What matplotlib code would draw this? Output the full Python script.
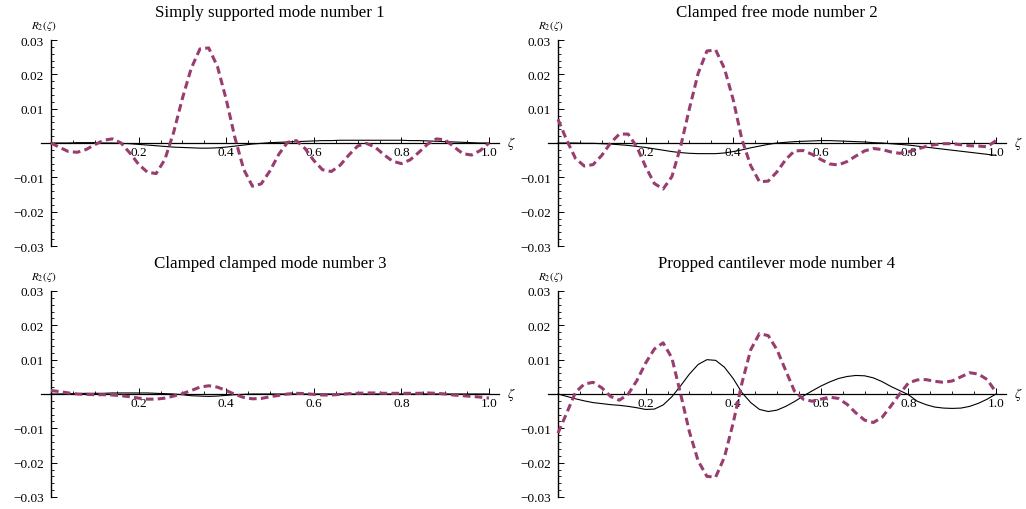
import numpy as np
import matplotlib
matplotlib.use("Agg")
import matplotlib.pyplot as plt

plt.rcParams['font.family'] = ['Liberation Serif', 'DejaVu Serif']
plt.rcParams['mathtext.fontset'] = 'stix'

# sample points along the beam
zeta = np.round(np.arange(0, 1.0001, 0.02), 2)

titles = ["Simply supported mode number 1", "Clamped free mode number 2",
          "Clamped clamped mode number 3", "Propped cantilever mode number 4"]

# simply supported, mode 1
ss_dash = [0.0, -0.0013, -0.0025, -0.0027, -0.0019, -0.0005, 0.0008, 0.0012, 0.0000, -0.0029,
           -0.0062, -0.0085, -0.0089, -0.0048, 0.0031, 0.0130, 0.0217, 0.0274, 0.0277, 0.0223,
           0.0127, 0.0015, -0.0077, -0.0126, -0.0119, -0.0081, -0.0033, 0.0002, 0.0007, -0.0016,
           -0.0051, -0.0078, -0.0083, -0.0065, -0.0035, -0.0009, -0.0001, -0.0012, -0.0034, -0.0053,
           -0.0060, -0.0049, -0.0027, -0.0003, 0.0012, 0.0009, -0.0011, -0.0031, -0.0035, -0.0022,
           0.0]
ss_solid = [0.0, 0.0, 0.0, 0.0001, 0.0001, 0.0001, 0.0, 0.0, -0.0001, -0.0002,
            -0.0004, -0.0006, -0.0008, -0.0010, -0.0012, -0.0013, -0.0014, -0.0015, -0.0015, -0.0014,
            -0.0012, -0.0009, -0.0006, -0.0003, -0.0001, 0.0001, 0.0002, 0.0003, 0.0004, 0.0005,
            0.0006, 0.0007, 0.0007, 0.0008, 0.0008, 0.0008, 0.0008, 0.0008, 0.0008, 0.0008,
            0.0008, 0.0007, 0.0007, 0.0006, 0.0005, 0.0004, 0.0003, 0.0002, 0.0001, 0.0,
            0.0]

# clamped free, mode 2
cf_dash = [0.0069, 0.0008, -0.0045, -0.0067, -0.0063, -0.0036, 0.0000, 0.0026, 0.0026, -0.0011,
           -0.0069, -0.0118, -0.0134, -0.0098, -0.0010, 0.0100, 0.0203, 0.0268, 0.0271, 0.0217,
           0.0126, 0.0010, -0.0066, -0.0113, -0.0111, -0.0084, -0.0048, -0.0023, -0.0022, -0.0033,
           -0.0048, -0.0061, -0.0064, -0.0054, -0.0038, -0.0023, -0.0016, -0.0019, -0.0026, -0.0030,
           -0.0026, -0.0018, -0.0010, -0.0005, -0.0002, -0.0002, -0.0005, -0.0008, -0.0009, -0.0011,
           0.0007]
cf_solid = [0.0, 0.0, 0.0, -0.0001, -0.0001, -0.0002, -0.0003, -0.0005, -0.0007, -0.0010,
            -0.0013, -0.0017, -0.0021, -0.0025, -0.0028, -0.0030, -0.0031, -0.0031, -0.0031, -0.0029,
            -0.0025, -0.0020, -0.0014, -0.0009, -0.0004, 0.0, 0.0002, 0.0004, 0.0005, 0.0006,
            0.0007, 0.0007, 0.0006, 0.0005, 0.0004, 0.0003, 0.0001, 0.0, -0.0002, -0.0004,
            -0.0006, -0.0009, -0.0012, -0.0015, -0.0018, -0.0021, -0.0024, -0.0027, -0.0030, -0.0033,
            -0.0036]

# clamped clamped, mode 3
cc_dash = [0.0010, 0.0007, 0.0003, 0.0, -0.0001, -0.0002, -0.0002, -0.0003, -0.0005, -0.0008,
           -0.0012, -0.0015, -0.0015, -0.0012, -0.0006, 0.0001, 0.0010, 0.0020, 0.0024, 0.0020,
           0.0010, -0.0001, -0.0010, -0.0014, -0.0013, -0.0008, -0.0004, 0.0, 0.0002, 0.0001,
           -0.0001, -0.0003, -0.0003, -0.0001, 0.0001, 0.0002, 0.0003, 0.0003, 0.0002, 0.0002,
           0.0002, 0.0002, 0.0002, 0.0003, 0.0002, 0.0, -0.0003, -0.0005, -0.0007, -0.0009,
           -0.0012]
cc_solid = [0.0, 0.0, 0.0001, 0.0001, 0.0002, 0.0002, 0.0002, 0.0003, 0.0003, 0.0003,
            0.0003, 0.0003, 0.0002, 0.0001, 0.0, -0.0002, -0.0005, -0.0006, -0.0007, -0.0006,
            -0.0004, -0.0002, -0.0001, 0.0, 0.0, 0.0, 0.0, 0.0, 0.0, 0.0,
            0.0, 0.0, 0.0, 0.0, 0.0, 0.0, 0.0, 0.0, 0.0, 0.0,
            0.0, 0.0, 0.0, 0.0, 0.0, 0.0, 0.0, 0.0, 0.0, 0.0,
            0.0]

# propped cantilever, mode 4
pc_dash = [-0.0114, -0.0055, 0.0005, 0.0029, 0.0034, 0.0018, -0.0007, -0.0018, -0.0001, 0.0039,
           0.0090, 0.0131, 0.0149, 0.0105, 0.0000, -0.0110, -0.0195, -0.0240, -0.0242, -0.0184,
           -0.0084, 0.0032, 0.0129, 0.0176, 0.0170, 0.0129, 0.0068, 0.0008, -0.0015, -0.0021,
           -0.0015, -0.0009, -0.0013, -0.0030, -0.0055, -0.0076, -0.0083, -0.0068, -0.0035, 0.0000,
           0.0032, 0.0041, 0.0042, 0.0037, 0.0034, 0.0038, 0.0050, 0.0062, 0.0058, 0.0042,
           0.0005]
pc_solid = [0.0, -0.0007, -0.0014, -0.0020, -0.0025, -0.0028, -0.0031, -0.0033, -0.0036, -0.0040,
            -0.0045, -0.0044, -0.0032, -0.0008, 0.0024, 0.0058, 0.0086, 0.0100, 0.0098, 0.0078,
            0.0045, 0.0004, -0.0025, -0.0045, -0.0051, -0.0047, -0.0036, -0.0022, -0.0006, 0.0009,
            0.0023, 0.0035, 0.0045, 0.0051, 0.0054, 0.0053, 0.0047, 0.0036, 0.0022, 0.0010,
            -0.0002, -0.0021, -0.0031, -0.0038, -0.0041, -0.0042, -0.0041, -0.0036, -0.0027, -0.0015,
            0.0]

dash_curves = [ss_dash, cf_dash, cc_dash, pc_dash]
solid_curves = [ss_solid, cf_solid, cc_solid, pc_solid]

W, H = 1026, 510
purple = (0.6, 0.24, 0.442)

# pixel boxes: (x of zeta=0, x of zeta=1, y of +0.03, y of -0.03)
boxes = [(51, 489, 41, 247), (558, 996, 41, 247),
         (51, 489, 292, 498), (558, 996, 292, 498)]
pad = 0.023

fig = plt.figure(figsize=(W / 100, H / 100), dpi=100)

for title, yd, ys, (x0, x1, yt, yb) in zip(titles, dash_curves, solid_curves, boxes):
    sx = x1 - x0
    left = x0 - pad * sx
    right = x1 + pad * sx
    ax = fig.add_axes([left / W, 1 - yb / H, (right - left) / W, (yb - yt) / H])
    ax.set_xlim(-pad, 1 + pad)
    ax.set_ylim(-0.03, 0.03)

    ax.plot(zeta, ys, color='black', lw=0.8, zorder=3, clip_on=False)
    ln, = ax.plot(zeta, yd, color=purple, lw=2.2, zorder=4, clip_on=False)
    ln.set_dashes((2.5, 1.4))

    for s in ['top', 'right']:
        ax.spines[s].set_visible(False)
    ax.spines['left'].set_position(('data', 0))
    ax.spines['bottom'].set_position(('data', 0))
    ax.spines['left'].set_bounds(-0.03, 0.03)
    ax.spines['left'].set_linewidth(1.0)
    ax.spines['bottom'].set_linewidth(0.9)

    ax.set_xticks([0.2, 0.4, 0.6, 0.8, 1.0])
    ax.set_xticklabels(['0.2', '0.4', '0.6', '0.8', '1.0'])
    ax.set_xticks([k * 0.05 for k in range(1, 20) if k % 4], minor=True)
    ax.set_yticks([-0.03, -0.02, -0.01, 0.01, 0.02, 0.03])
    ax.set_yticklabels(['\u22120.03', '\u22120.02', '\u22120.01', '0.01', '0.02', '0.03'])
    ax.set_yticks([k * 0.002 for k in range(-14, 15) if k % 5], minor=True)
    ax.tick_params(axis='both', which='major', direction='in', length=4, width=0.7,
                   labelsize=9.5, colors='black')
    ax.tick_params(axis='both', which='minor', direction='in', length=2.5, width=0.6)
    ax.tick_params(axis='x', which='major', pad=2)
    ax.tick_params(axis='y', which='major', pad=5)
    ax.patch.set_visible(False)

    # axis labels at the ends of the axes
    ax.annotate(r'$R_2(\zeta)$', xy=(0, 0.03), xytext=(-5, 11), textcoords='offset points',
                ha='center', va='center', fontsize=8)
    ax.annotate(r'$\zeta$', xy=(1 + pad, 0), xytext=(9, 0), textcoords='offset points',
                ha='center', va='center', fontsize=10)

    fig.text((left + right) / 2 / W, 1 - (yt - 28) / H, title, ha='center', va='center',
             fontsize=12.2)

fig.savefig('out.png', dpi=100)
